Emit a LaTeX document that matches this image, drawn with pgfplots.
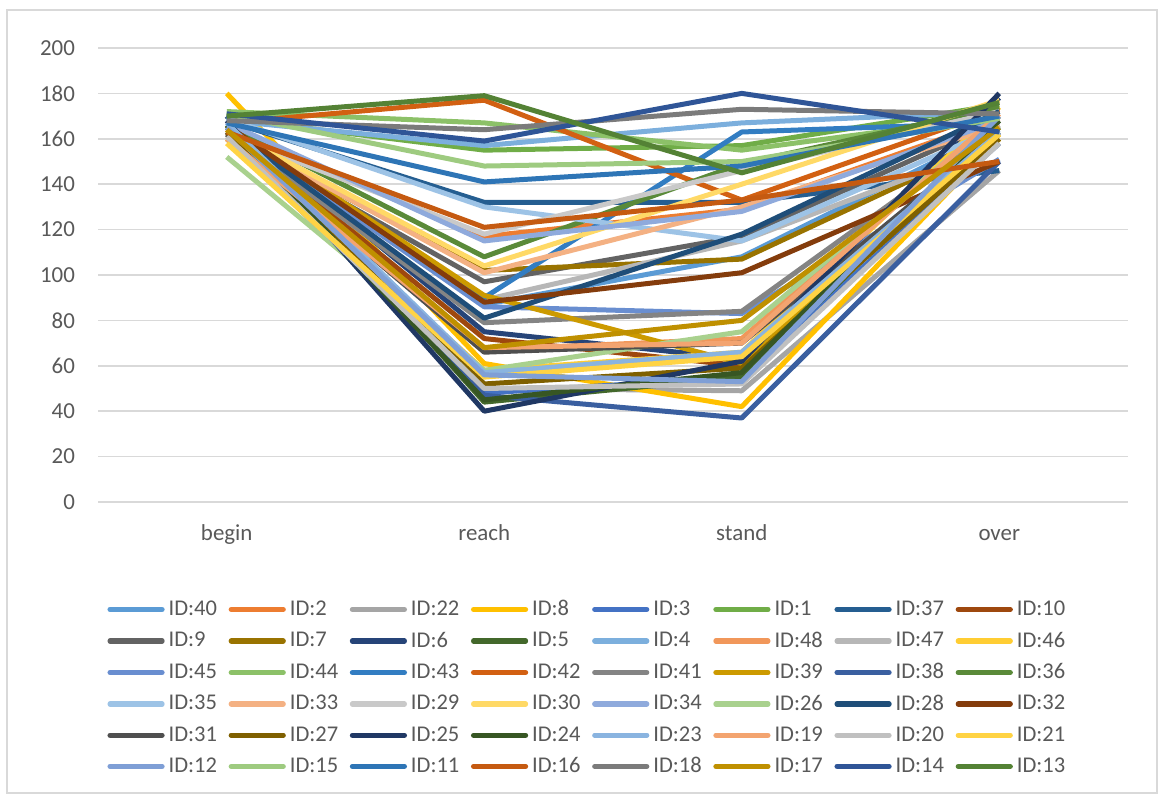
\documentclass[border=0pt]{standalone}
\usepackage{pgfplots}
\pgfplotsset{compat=1.18}
\usepackage{fontspec}
\setmainfont{Carlito}

% series colours
\definecolor{c40}{HTML}{5B9BD5}\definecolor{c2}{HTML}{ED7D31}\definecolor{c22}{HTML}{A5A5A5}
\definecolor{c8}{HTML}{FFC000}\definecolor{c3}{HTML}{4472C4}\definecolor{c1}{HTML}{70AD47}
\definecolor{c37}{HTML}{255E91}\definecolor{c10}{HTML}{9E480E}\definecolor{c9}{HTML}{636363}
\definecolor{c7}{HTML}{997300}\definecolor{c6}{HTML}{264478}\definecolor{c5}{HTML}{43682B}
\definecolor{c4}{HTML}{7CAFDD}\definecolor{c48}{HTML}{F1975A}\definecolor{c47}{HTML}{B7B7B7}
\definecolor{c46}{HTML}{FFCD33}\definecolor{c45}{HTML}{698ED0}\definecolor{c44}{HTML}{8CC168}
\definecolor{c43}{HTML}{327DC2}\definecolor{c42}{HTML}{D26012}\definecolor{c41}{HTML}{848484}
\definecolor{c39}{HTML}{CC9A00}\definecolor{c38}{HTML}{3A5FA0}\definecolor{c36}{HTML}{5A8A39}
\definecolor{c35}{HTML}{9DC3E6}\definecolor{c33}{HTML}{F4B183}\definecolor{c29}{HTML}{C9C9C9}
\definecolor{c30}{HTML}{FFD966}\definecolor{c34}{HTML}{8FAADC}\definecolor{c26}{HTML}{A9D18E}
\definecolor{c28}{HTML}{1F4E79}\definecolor{c32}{HTML}{843C0C}\definecolor{c31}{HTML}{4F4F4F}
\definecolor{c27}{HTML}{7F6000}\definecolor{c25}{HTML}{203864}\definecolor{c24}{HTML}{375623}
\definecolor{c23}{HTML}{8AB4E0}\definecolor{c19}{HTML}{F3A470}\definecolor{c20}{HTML}{C0C0C0}
\definecolor{c21}{HTML}{FFD344}\definecolor{c12}{HTML}{7F9FD6}\definecolor{c15}{HTML}{9ECB80}
\definecolor{c11}{HTML}{2E75B6}\definecolor{c16}{HTML}{C55A11}\definecolor{c18}{HTML}{7B7B7B}
\definecolor{c17}{HTML}{BF9000}\definecolor{c14}{HTML}{2F5597}\definecolor{c13}{HTML}{548235}
\definecolor{txt}{HTML}{595959}
\definecolor{gridc}{HTML}{D9D9D9}

% one series: colour, values at begin/reach/stand/over, legend text
\newcommand\series[6]{%
  \addplot[color=#1] coordinates {(0,#2) (1,#3) (2,#4) (3,#5)};
  \addlegendentry{\makebox[28bp][l]{#6}}}

\begin{document}
\begin{tikzpicture}
\useasboundingbox (0,0) rectangle (580bp,397.5bp);
\draw[gridc, line width=0.75bp] (3.5bp,392.5bp) rectangle (578.5bp,1bp);
\begin{axis}[
  at={(49bp,146.5bp)}, anchor=south west,
  scale only axis, width=515bp, height=227bp,
  xmin=-0.5, xmax=3.5, ymin=0, ymax=200,
  xtick={0,1,2,3}, xticklabels={begin,reach,stand,over},
  ytick={0,20,...,200},
  ymajorgrids, grid style={draw=gridc, line width=0.75bp},
  axis line style={draw=none}, major tick length=0pt,
  /pgf/number format/assume math mode=true,
  tick label style={font=\fontsize{11.5}{13}\selectfont, text=txt},
  xticklabel style={anchor=base, yshift=-19bp},
  yticklabel style={xshift=-8bp},
  every axis plot/.append style={line width=2.5bp, line join=round},
  legend columns=8,
  legend cell align=left,
  legend image code/.code={\draw[line width=2.6bp, line cap=round] (0bp,0bp) -- (26bp,0bp);},
  legend style={at={(axis description cs:0.003,-0.198)}, anchor=north west,
    draw=none, fill=none, font=\fontsize{11.3}{13}\selectfont, text=txt,
    /tikz/every even column/.append style={column sep=0bp},
    row sep=2.6bp},
]
\series{c40}{166}{87}{108}{164}{ID:40}
\series{c2}{165}{117}{129}{169}{ID:2}
\series{c22}{160}{50}{49}{146}{ID:22}
\series{c8}{180}{61}{42}{160}{ID:8}
\series{c3}{163}{48}{55}{158}{ID:3}
\series{c1}{169}{155}{157}{175}{ID:1}
\series{c37}{168}{132}{132}{146}{ID:37}
\series{c10}{164}{72}{60}{163}{ID:10}
\series{c9}{161}{97}{117}{168}{ID:9}
\series{c7}{162}{102}{107}{160}{ID:7}
\series{c6}{168}{75}{63}{178}{ID:6}
\series{c5}{170}{44}{55}{165}{ID:5}
\series{c4}{168}{157}{167}{172}{ID:4}
\series{c48}{164}{67}{72}{170}{ID:48}
\series{c47}{161}{89}{115}{158}{ID:47}
\series{c46}{160}{58}{66}{174}{ID:46}
\series{c45}{165}{86}{83}{151}{ID:45}
\series{c44}{172}{167}{155}{170}{ID:44}
\series{c43}{165}{90}{163}{167}{ID:43}
\series{c42}{167}{177}{133}{173}{ID:42}
\series{c41}{163}{79}{84}{166}{ID:41}
\series{c39}{166}{91}{61}{162}{ID:39}
\series{c38}{170}{47}{37}{150}{ID:38}
\series{c36}{166}{108}{149}{174}{ID:36}
\series{c35}{169}{130}{115}{165}{ID:35}
\series{c33}{163}{101}{130}{166}{ID:33}
\series{c29}{162}{118}{146}{172}{ID:29}
\series{c30}{164}{104}{140}{177}{ID:30}
\series{c34}{167}{115}{128}{168}{ID:34}
\series{c26}{152}{58}{75}{170}{ID:26}
\series{c28}{165}{81}{118}{172}{ID:28}
\series{c32}{166}{88}{101}{150}{ID:32}
\series{c31}{162}{66}{70}{163}{ID:31}
\series{c27}{163}{52}{59}{160}{ID:27}
\series{c25}{168}{40}{62}{180}{ID:25}
\series{c24}{166}{45}{57}{168}{ID:24}
\series{c23}{167}{57}{66}{163}{ID:23}
\series{c19}{160}{68}{70}{171}{ID:19}
\series{c20}{161}{50}{52}{158}{ID:20}
\series{c21}{158}{55}{64}{162}{ID:21}
\series{c12}{165}{56}{53}{170}{ID:12}
\series{c15}{171}{148}{150}{169}{ID:15}
\series{c11}{167}{141}{148}{170}{ID:11}
\series{c16}{163}{121}{133}{150}{ID:16}
\series{c18}{168}{164}{173}{171}{ID:18}
\series{c17}{164}{68}{80}{165}{ID:17}
\series{c14}{171}{159}{180}{163}{ID:14}
\series{c13}{170}{179}{145}{176}{ID:13}
\end{axis}
\end{tikzpicture}
\end{document}
